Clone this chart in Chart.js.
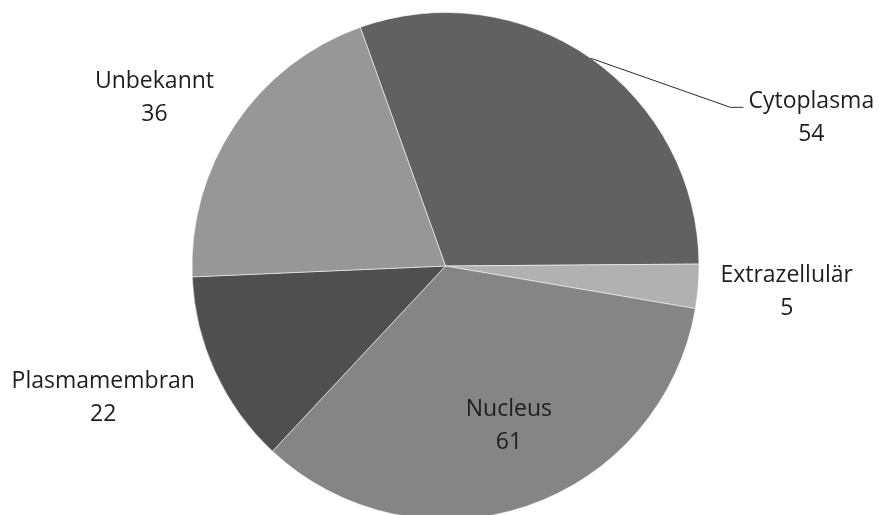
<!DOCTYPE html>
<html>
<head>
<meta charset="utf-8">
<script src="https://cdn.jsdelivr.net/npm/chart.js@4.4.1/dist/chart.umd.min.js"></script>
<style>
  html, body { margin: 0; padding: 0; background: #ffffff; overflow: hidden; }
  #wrap { width: 879px; height: 530px; }
</style>
</head>
<body>
<div id="wrap"><canvas id="pie" width="879" height="530"></canvas></div>
<script>
// Subcellular localisation counts
const categories = ['Cytoplasma', 'Extrazellulär', 'Nucleus', 'Plasmamembran', 'Unbekannt'];
const counts = [54, 5, 61, 22, 36];
const sliceColors = ['#616161', '#b1b1b1', '#858585', '#4f4f4f', '#979797'];

// Label block placement relative to the pie centre, in units of the radius
// (x, y of the first text line's baseline); leader marks slices whose label sits away from it
const labelPlacement = [
  { dx: 1.443, dy: -0.622, leader: true },
  { dx: 1.346, dy: 0.063 },
  { dx: 0.250, dy: 0.591 },
  { dx: -1.350, dy: 0.480 },
  { dx: -1.148, dy: -0.701 }
];

const LABEL_FONT = '23px "Open Sans", "Noto Sans", sans-serif';
const LINE_GAP = 33;

const sliceLabels = {
  id: 'sliceLabels',
  afterDatasetsDraw(chart) {
    const ctx = chart.ctx;
    const meta = chart.getDatasetMeta(0);
    ctx.save();
    ctx.font = LABEL_FONT;
    ctx.fillStyle = '#1e1e1e';
    ctx.textAlign = 'center';
    ctx.textBaseline = 'alphabetic';
    meta.data.forEach((arc, i) => {
      const p = labelPlacement[i];
      const r = arc.outerRadius;
      const x = arc.x + p.dx * r;
      const y = arc.y + p.dy * r;
      const name = chart.data.labels[i];
      ctx.fillText(name, x, y);
      ctx.fillText(String(chart.data.datasets[0].data[i]), x, y + LINE_GAP);
      if (p.leader) {
        const mid = (arc.startAngle + arc.endAngle) / 2;
        const ex = arc.x + Math.cos(mid) * r;
        const ey = arc.y + Math.sin(mid) * r;
        const left = x - ctx.measureText(name).width / 2;
        ctx.beginPath();
        ctx.strokeStyle = '#2a2a2a';
        ctx.lineWidth = 1;
        ctx.moveTo(ex, ey);
        ctx.lineTo(left - 18, y - 1);
        ctx.lineTo(left - 5, y - 1);
        ctx.stroke();
      }
    });
    ctx.restore();
  }
};

new Chart(document.getElementById('pie'), {
  type: 'pie',
  data: {
    labels: categories,
    datasets: [{
      data: counts,
      backgroundColor: sliceColors,
      borderColor: 'rgba(255,255,255,0.55)',
      borderWidth: 1,
      hoverOffset: 0,
      offset: 0
    }]
  },
  options: {
    responsive: false,
    devicePixelRatio: 1,
    animation: false,
    rotation: -19.65,
    layout: { padding: { left: 191.5, right: 179.5, top: 12, bottom: 10 } },
    plugins: {
      legend: { display: false },
      title: { display: false },
      tooltip: { enabled: false }
    },
    events: []
  },
  plugins: [sliceLabels]
});
</script>
</body>
</html>
